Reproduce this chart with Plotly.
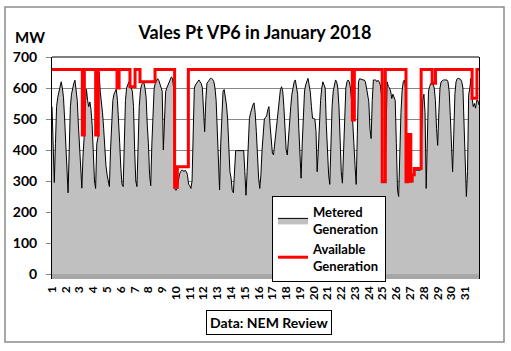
import pandas as pd
import plotly.graph_objects as go

title_text = "Vales Pt VP6 in January 2018"
day_labels = [str(d) for d in range(1, 32)]
y_ticks = [0, 100, 200, 300, 400, 500, 600, 700]

# Metered generation (MW), 2-hourly samples (00,02,...,22h), one row per day
metered_wk1 = [
    540, 400, 295, 420, 540, 570, 590, 610, 620, 600, 570, 500,
    420, 320, 262, 400, 540, 580, 600, 615, 625, 600, 560, 480,
    400, 310, 277, 380, 440, 545, 596, 560, 540, 555, 530, 480,
    360, 300, 276, 420, 440, 650, 590, 560, 520, 470, 400, 350,
    320, 295, 282, 400, 500, 560, 580, 590, 596, 560, 500, 420,
    340, 290, 282, 440, 560, 600, 615, 620, 600, 600, 590, 540,
    400, 300, 282, 430, 540, 590, 610, 615, 618, 600, 570, 480,
]
metered_wk2 = [
    420, 320, 285, 420, 540, 600, 615, 625, 630, 625, 610, 600,
    590, 400, 520, 588, 600, 610, 620, 628, 636, 630, 600, 275,
    270, 275, 300, 320, 330, 335, 335, 330, 335, 330, 320, 290,
    285, 276, 300, 480, 600, 610, 616, 620, 626, 620, 615, 600,
    540, 459, 560, 616, 620, 626, 631, 631, 628, 620, 600, 560,
    450, 330, 271, 420, 540, 590, 595, 570, 545, 500, 400, 330,
    310, 270, 262, 350, 398, 398, 398, 398, 398, 398, 398, 398,
]
metered_wk3 = [
    330, 254, 330, 450, 502, 520, 535, 545, 552, 520, 460, 380,
    310, 276, 320, 400, 460, 500, 505, 510, 530, 540, 480, 430,
    390, 384, 420, 470, 500, 540, 575, 595, 604, 590, 540, 460,
    400, 384, 450, 500, 540, 580, 605, 620, 626, 600, 580, 470,
    370, 309, 420, 545, 590, 610, 625, 631, 610, 588, 540, 502,
    502, 500, 460, 330, 400, 500, 560, 600, 620, 610, 600, 480,
    380, 320, 289, 430, 540, 590, 610, 626, 620, 600, 540, 420,
]
metered_wk4 = [
    330, 293, 400, 540, 600, 620, 626, 620, 600, 560, 470, 420,
    350, 289, 450, 620, 630, 628, 626, 626, 626, 620, 600, 580,
    556, 470, 437, 560, 626, 626, 626, 620, 625, 620, 610, 580,
    298, 298, 298, 450, 620, 605, 600, 590, 566, 580, 570, 560,
    420, 270, 250, 400, 520, 590, 620, 626, 600, 295, 295, 330,
    330, 295, 315, 318, 335, 335, 335, 335, 335, 335, 450, 560,
    580, 520, 276, 480, 590, 605, 615, 612, 612, 600, 560, 470,
]
metered_wk5 = [
    415, 520, 600, 620, 625, 626, 626, 626, 626, 620, 590, 510,
    380, 330, 450, 580, 620, 630, 631, 630, 628, 620, 600, 480,
    330, 250, 330, 577, 600, 631, 566, 540, 550, 535, 560, 560,
]
metered_end = 545  # value at 1 Feb 00:00

# Available generation (MW): step changes, time in days after 1 Jan 00:00
avail_days = [0, 2.2, 2.35, 3.17, 3.36, 4.72, 4.87, 5.66, 6.03, 6.39, 7.48,
              8.9, 9.1, 9.9, 21.8, 21.95, 23.97, 24.2, 25.7, 25.85, 26.05,
              26.15, 26.3, 26.8, 27.6, 27.84, 30.5, 30.85, 31.0]
avail_mw = [660, 448, 660, 448, 660, 600, 660, 604, 660, 620, 660,
            280, 346, 660, 497, 660, 298, 660, 298, 450, 300,
            320, 340, 660, 615, 660, 567, 660, 660]

start = pd.Timestamp("2018-01-01")
metered = metered_wk1 + metered_wk2 + metered_wk3 + metered_wk4 + metered_wk5 + [metered_end]
met_time = list(pd.date_range(start, periods=len(metered) - 1, freq="2h")) + [start + pd.Timedelta(days=31)]
avail_time = [start + pd.to_timedelta(d, unit="D") for d in avail_days]
tick_dates = [start + pd.Timedelta(days=i) for i in range(31)]

FONT = "Lato"

fig = go.Figure()
fig.add_trace(go.Scatter(
    x=met_time, y=metered, name="Metered<br>Generation", mode="lines",
    fill="tozeroy", fillcolor="#C0C0C0", line=dict(color="black", width=1),
))
fig.add_trace(go.Scatter(
    x=avail_time, y=avail_mw, name="Available<br>Generation", mode="lines",
    line=dict(color="#FF0000", width=3, shape="hv"),
))

L, R, T, B = 52, 479, 57, 279
W, H = 511, 351
pw, ph = R - L, B - T

def px(x):
    return (x - L) / pw

def py(y):
    return (B - y) / ph

fig.update_layout(
    width=W, height=H,
    margin=dict(l=L, r=W - R, t=T, b=H - B),
    paper_bgcolor="white", plot_bgcolor="white",
    title=dict(text=title_text, x=255 / W, xanchor="center",
               y=1 - 33 / H, yanchor="middle", yref="container", xref="container",
               font=dict(family=FONT, size=18, color="black", weight="bold")),
    showlegend=True,
    legend=dict(x=px(272), y=py(196), xanchor="left", yanchor="top",
                bgcolor="white", bordercolor="black", borderwidth=1,
                font=dict(family=FONT, size=13, color="black", weight="bold"),
                tracegroupgap=0, itemwidth=30),
    xaxis=dict(type="date", range=[start, start + pd.Timedelta(days=31)],
               tickmode="array", tickvals=tick_dates, ticktext=day_labels,
               tickangle=-90, showgrid=False, showline=False, ticks="",
               tickfont=dict(family=FONT, size=12, color="black", weight="bold"),
               ticklabelstandoff=4, zeroline=False),
    yaxis=dict(range=[-16.1, 700], tickmode="array", tickvals=y_ticks,
               showgrid=True, gridcolor="#868686", gridwidth=1,
               showline=True, linecolor="black", linewidth=1, mirror=True,
               ticks="outside", ticklen=5, tickcolor="#868686",
               tickfont=dict(family=FONT, size=14, color="black", weight="bold"),
               ticklabelstandoff=6, zeroline=False),
)

# floor band under the plot
fig.add_shape(type="rect", xref="paper", yref="y", x0=0, x1=1, y0=-16.1, y1=0,
              fillcolor="#A6A6A6", line=dict(width=0), layer="above")
# top border of plot area
fig.add_shape(type="line", xref="paper", yref="paper", x0=0, x1=1, y0=1, y1=1,
              line=dict(color="black", width=1))
# outer chart border
fig.add_shape(type="rect", xref="paper", yref="paper",
              x0=px(5), x1=px(504), y0=py(342), y1=py(7),
              line=dict(color="#8C8C8C", width=1.5))

fig.add_annotation(text="<b>MW</b>", xref="paper", yref="paper", x=px(30), y=py(37),
                   showarrow=False, xanchor="center", yanchor="middle",
                   font=dict(family=FONT, size=15, color="black"))
fig.add_annotation(text="<b>Data: NEM Review</b>", xref="paper", yref="paper",
                   x=px(268.5), y=py(322), showarrow=False, xanchor="center", yanchor="middle",
                   font=dict(family=FONT, size=14, color="black"),
                   bordercolor="black", borderwidth=1, borderpad=3, bgcolor="white")

fig.write_html("out.html")
